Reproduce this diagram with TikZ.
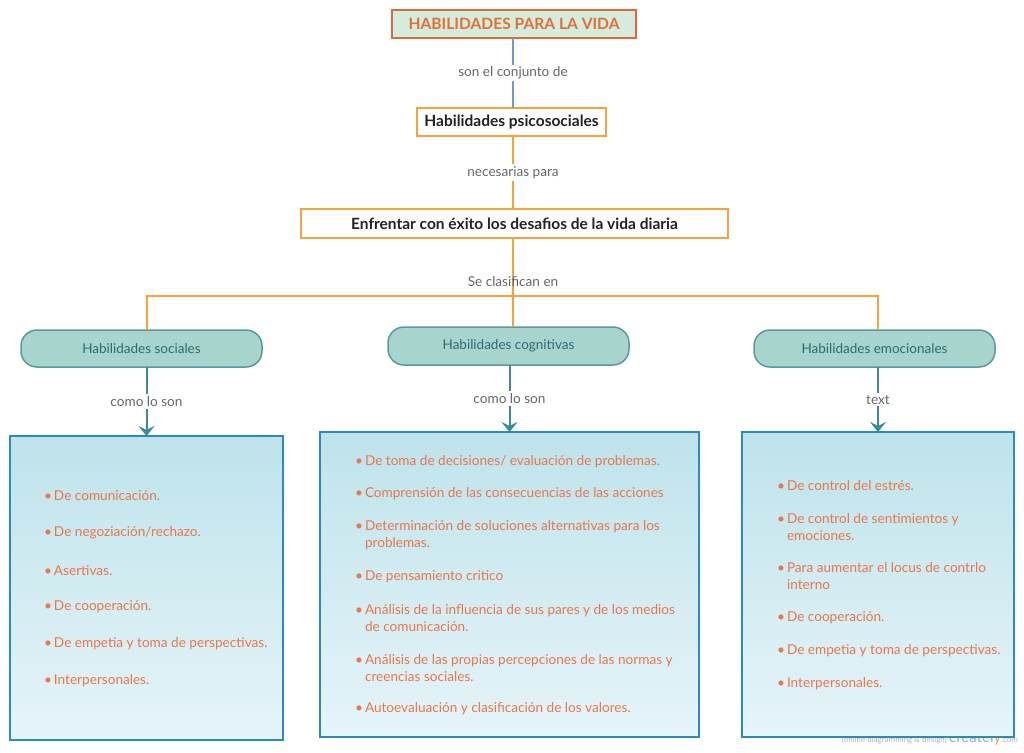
\documentclass[tikz,border=0pt]{standalone}
\usepackage{fontspec}
\setmainfont{Lato}
\usetikzlibrary{arrows.meta}
\definecolor{titleborder}{HTML}{E0693A}
\definecolor{titlefill}{HTML}{D5EBDC}
\definecolor{titletext}{HTML}{E06F38}
\definecolor{orangeline}{HTML}{F5A23A}
\definecolor{blueline}{HTML}{6C9BD2}
\definecolor{labelgray}{HTML}{666666}
\definecolor{pillfill}{HTML}{A7D4CD}
\definecolor{pillborder}{HTML}{5A9A9B}
\definecolor{pilltext}{HTML}{2F6A73}
\definecolor{tealline}{HTML}{3D8A96}
\definecolor{boxborder}{HTML}{2A8CB8}
\definecolor{boxtop}{HTML}{BEE3EB}
\definecolor{boxbottom}{HTML}{E6F4F8}
\definecolor{itemtext}{HTML}{E8774A}
\definecolor{darktext}{HTML}{222222}
\tikzset{
  every node/.style={inner sep=0pt, outer sep=0pt},
  titlebox/.style={draw=titleborder, line width=2pt, fill=titlefill, text=titletext,
    font=\fontsize{15.6}{18}\selectfont\bfseries},
  mainbox/.style={draw=orangeline, line width=2pt, fill=white, text=darktext,
    font=\fontsize{15.5}{18}\selectfont\bfseries},
  pill/.style={draw=pillborder, line width=1.5pt, fill=pillfill, text=pilltext,
    rounded corners=16pt, font=\fontsize{13.5}{16}\selectfont},
  listbox/.style={draw=boxborder, line width=2pt, top color=boxtop, bottom color=boxbottom},
  lbl/.style={text=labelgray, font=\fontsize{13.6}{16}\selectfont, inner sep=2pt},
  lblw/.style={lbl, fill=white},
  item/.style={anchor=west, text=itemtext, align=left, font=\fontsize{13.6}{17}\selectfont},
  tealarrow/.style={draw=tealline, line width=2pt, -{Stealth[length=10pt,width=16pt,inset=4pt]}},
}
\newcommand{\bul}{\makebox[10pt][l]{\textbullet}}
\newcommand{\ind}{\hspace*{10pt}}
\begin{document}
\begin{tikzpicture}[x=1pt,y=-1pt]
\useasboundingbox (0,0) rectangle (1024,752);
% watermark
\node[text=gray!60, font=\fontsize{8}{9}\selectfont, anchor=base east] (wm) at (1018,742) {[online diagramming \& design] {\fontsize{15}{15}\selectfont\color{blueline!80}createl\color{orangeline}y}.com};

% nodes
\node[titlebox, minimum width=244pt, minimum height=28pt] (title) at (514,24) {HABILIDADES PARA LA VIDA};
\node[mainbox, minimum width=189pt, minimum height=28pt] (psico) at (511.5,122) {Habilidades psicosociales};
\node[mainbox, minimum width=427pt, minimum height=29pt] (enf) at (514.5,223.5) {Enfrentar con éxito los desafios de la vida diaria};

\node[pill, minimum width=241pt, minimum height=37pt] (soc) at (141.5,348.5) {Habilidades sociales};
\node[pill, minimum width=241pt, minimum height=38pt] (cog) at (508.5,346) {Habilidades cognitivas};
\node[pill, minimum width=241pt, minimum height=37pt] (emo) at (874.5,348.5) {Habilidades emocionales};

\node[listbox, minimum width=273pt, minimum height=304pt] (sbox) at (146.5,588) {};
\node[listbox, minimum width=379pt, minimum height=305pt] (cbox) at (509.5,584.5) {};
\node[listbox, minimum width=272pt, minimum height=305pt] (ebox) at (878,584.5) {};

% connectors top
\draw[blueline, line width=2pt] (title.south -| 513,0) -- node[lblw]{son el conjunto de} (psico.north -| 513,0);
\draw[orangeline, line width=2pt] (psico.south -| 513,0) -- node[lblw]{necesarias para} (enf.north -| 513,0);
\coordinate (split) at (513,296);
\draw[orangeline, line width=2pt] (enf.south -| split) -- (cog.north -| split);
\draw[orangeline, line width=2pt] (soc.north -| sbox.north) |- (split) -| (emo.north -| ebox.north);
\node[lbl] (clas) at (513,282) {Se clasifican en};

% teal connectors
\draw[tealarrow] (soc.south -| sbox.north) -- node[lblw]{como lo son} (sbox.north);
\draw[tealarrow] (cog.south -| cbox.north) -- node[lblw]{como lo son} (cbox.north);
\draw[tealarrow] (emo.south -| ebox.north) -- node[lblw]{text} (ebox.north);

% left list
\node[item] (s1) at (44,496) {\bul De comunicación.};
\node[item] (s2) at (44,533) {\bul De negoziación/rechazo.};
\node[item] (s3) at (44,571) {\bul Asertivas.};
\node[item] (s4) at (44,607) {\bul De cooperación.};
\node[item] (s5) at (44,644) {\bul De empetia y toma de perspectivas.};
\node[item] (s6) at (44,681) {\bul Interpersonales.};

% middle list
\node[item] (c1) at (355,462) {\bul De toma de decisiones/ evaluación de problemas.};
\node[item] (c2) at (355,494) {\bul Comprensión de las consecuencias de las acciones};
\node[item] (c3) at (355,535.5) {\bul Determinación de soluciones alternativas para los\\\ind problemas.};
\node[item] (c4) at (355,577) {\bul De pensamiento critico};
\node[item] (c5) at (355,618.5) {\bul Análisis de la influencia de sus pares y de los medios\\\ind de comunicación.};
\node[item] (c6) at (355,668) {\bul Análisis de las propias percepciones de las normas y\\\ind creencias sociales.};
\node[item] (c7) at (355,709) {\bul Autoevaluación y clasificación de los valores.};

% right list
\node[item] (e1) at (777,486) {\bul De control del estrés.};
\node[item] (e2) at (777,527) {\bul De control de sentimientos y\\\ind emociones.};
\node[item] (e3) at (777,576) {\bul Para aumentar el locus de contrlo\\\ind interno};
\node[item] (e4) at (777,618) {\bul De cooperación.};
\node[item] (e5) at (777,651) {\bul De empetia y toma de perspectivas.};
\node[item] (e6) at (777,684) {\bul Interpersonales.};
\end{tikzpicture}
\end{document}
